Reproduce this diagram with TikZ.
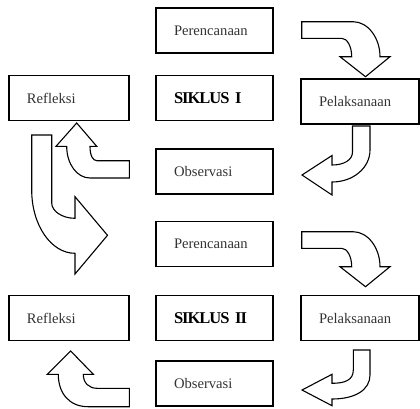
\documentclass[tikz,border=0pt]{standalone}
\usepackage{fontspec}
\setmainfont{Liberation Serif}
\begin{document}
\begin{tikzpicture}[x=1pt,y=-1pt,
  box/.style={draw=black, line width=1.3pt, minimum height=45pt, inner xsep=18pt, inner ysep=0pt,
    text width=#1, align=left, font=\fontsize{14.6}{16}\selectfont, text=black!80},
  titlebox/.style={box=#1, font=\fontsize{16.5}{18}\selectfont\bfseries\addfontfeatures{LetterSpace=-6}, text=black},
  blockarrow/.style={draw=black, line width=1.1pt, fill=white, line join=miter}]
\useasboundingbox (0,0) rectangle (420,408);
% cycle I
\node[box=81pt]  (p1) at (214.5,30.5) {Perencanaan};
\node[titlebox=81pt] (s1) at (214.5,98) {SIKLUS I};
\node[box=84pt]  (r1) at (69,98) {Refleksi};
\node[box=82pt]  (l1) at (360,101.5) {Pelaksanaan};
\node[box=81pt]  (o1) at (214.5,171.5) {Observasi};
% cycle II
\node[box=81pt]  (p2) at (214.5,244) {Perencanaan};
\node[titlebox=81pt] (s2) at (214.5,318) {SIKLUS II};
\node[box=84pt]  (r2) at (69,318) {Refleksi};
\node[box=82pt]  (l2) at (360,318) {Pelaksanaan};
\node[box=81pt]  (o2) at (214.5,383.5) {Observasi};
% arrow A: Perencanaan I -> Pelaksanaan I
\draw[blockarrow] (301.7,21.7) -- (353,21.7) .. controls (368,21.7) and (380,38) .. (380,56.7)
  -- (390,56.7) -- (365.5,76.7) -- (340,56.7) -- (351.7,56.7)
  .. controls (351.7,46.5) and (347.2,38.3) .. (341.7,38.3) -- (301.7,38.3) -- cycle;
% arrow B: Pelaksanaan I -> Observasi I
\draw[blockarrow] (352.5,126) -- (370,126) -- (370,150) .. controls (370,168) and (353,182) .. (332,182)
  -- (332,195) -- (302,175) -- (332,155.5) -- (332,165)
  .. controls (344,165) and (352.5,160) .. (352.5,152) -- cycle;
% arrow C: Observasi I -> Refleksi I
\draw[blockarrow] (129.3,160.7) -- (97,160.7) .. controls (93,160.7) and (90,156) .. (90,146.3)
  -- (96.7,146.3) -- (76.7,123) -- (56,146.3) -- (66.7,146.3)
  .. controls (66.7,164) and (77,178) .. (90,178) -- (129.3,178) -- cycle;
% arrow D: Refleksi I -> Perencanaan II
\draw[blockarrow] (31.7,135) -- (51.7,135) -- (51.7,203) .. controls (51.7,211) and (62,218.3) .. (75,218.3)
  -- (75,196.7) -- (107.5,235.3) -- (75,274) -- (75,253.3)
  .. controls (51,253.3) and (31.7,225) .. (31.7,190) -- cycle;
% arrow E: Perencanaan II -> Pelaksanaan II
\draw[blockarrow] (301.7,231.7) -- (353,231.7) .. controls (368,231.7) and (380,248) .. (380,266.7)
  -- (390,266.7) -- (365.5,286.7) -- (340,266.7) -- (351.7,266.7)
  .. controls (351.7,256.5) and (347.2,248.3) .. (341.7,248.3) -- (301.7,248.3) -- cycle;
% arrow F: Pelaksanaan II -> Observasi II
\draw[blockarrow] (353.3,350) -- (370,350) -- (370,375) .. controls (370,390) and (355,399) .. (332,399)
  -- (332,405.7) -- (302,390) -- (332,374.3) -- (332,383.3)
  .. controls (345,383.3) and (353.3,380) .. (353.3,370) -- cycle;
% arrow G: Observasi II -> Refleksi II
\draw[blockarrow] (129.3,388.3) -- (97,388.3) .. controls (89,388.3) and (83.3,383) .. (83.3,374.3)
  -- (93.3,374.3) -- (70.7,351) -- (47.3,374.3) -- (58.3,374.3)
  .. controls (58.3,394) and (70,406.7) .. (88,406.7) -- (129.3,406.7) -- cycle;
\end{tikzpicture}
\end{document}
